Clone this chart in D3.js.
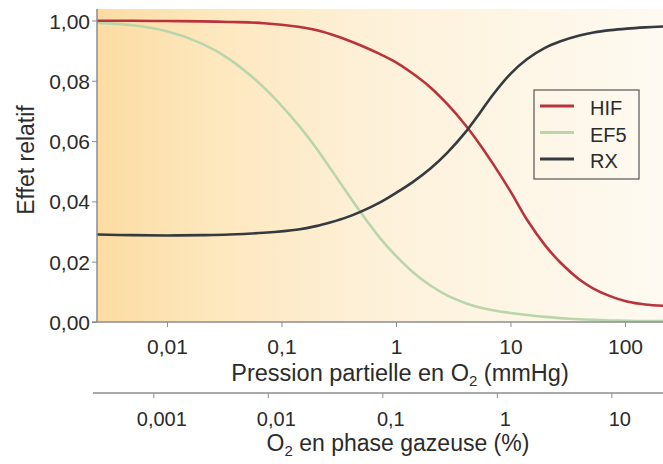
<!DOCTYPE html>
<html><head><meta charset="utf-8">
<script src="https://cdn.jsdelivr.net/npm/d3@7"></script>
<style>
html,body{margin:0;padding:0;background:#fff;}
text{font-family:"Liberation Sans",Arial,sans-serif;fill:#2b2b2b;}
</style></head>
<body>
<svg id="chart" width="663" height="464"></svg>
<script>
// pressure (mmHg) sample points
const pressure = [0.0025,0.005,0.01,0.02,0.035,0.07,0.14,0.2,0.27,0.37,0.5,0.72,1,1.4,2,2.8,4,5.4,7,10,14,20,27,40,53,75,104,150,215];
const hif = [0.999,0.999,0.998,0.997,0.995,0.991,0.979,0.968,0.954,0.936,0.916,0.889,0.861,0.824,0.778,0.723,0.655,0.589,0.526,0.433,0.338,0.255,0.199,0.141,0.111,0.085,0.068,0.058,0.054];
const ef5 = [0.992,0.984,0.964,0.924,0.872,0.778,0.654,0.578,0.507,0.431,0.360,0.280,0.219,0.166,0.121,0.088,0.063,0.048,0.039,0.030,0.023,0.017,0.013,0.009,0.007,0.005,0.004,0.003,0.003];
const rx = [0.290,0.288,0.287,0.288,0.290,0.296,0.307,0.318,0.331,0.347,0.367,0.396,0.428,0.464,0.509,0.561,0.627,0.693,0.753,0.823,0.872,0.909,0.930,0.950,0.960,0.968,0.973,0.977,0.980];
const seriesNames = ["HIF","EF5","RX"];
const seriesColors = ["#b8333b","#b9d6ab","#353a3f"];
const yTickValues = [0,0.2,0.4,0.6,0.8,1.0];
const yTickLabels = ["0,00","0,02","0,04","0,06","0,08","1,00"];
const xTicksMmHg = [0.01,0.1,1,10,100];
const xTickLabelsMmHg = ["0,01","0,1","1","10","100"];
const xTicksPct = [0.001,0.01,0.1,1,10];
const xTickLabelsPct = ["0,001","0,01","0,1","1","10"];
const mmHgPerPct = 7.6;

const svg = d3.select("#chart");
const L = 97, R = 663, T = 9, B = 322;
const x = d3.scaleLog().domain([Math.pow(10,-2.611), Math.pow(10,2.332)]).range([L, R]);
const xPct = d3.scaleLog().domain(x.domain().map(d => d / mmHgPerPct)).range([L, R]);
const y = d3.scaleLinear().domain([0, 1.038]).range([B, T]);

const defs = svg.append("defs");
const g = defs.append("linearGradient").attr("id","bg").attr("x1","0").attr("x2","1").attr("y1","0").attr("y2","0");
[["0%","#fcdca2"],["20%","#fde7bd"],["50%","#fdf1da"],["100%","#fefaf1"]].forEach(s =>
  g.append("stop").attr("offset", s[0]).attr("stop-color", s[1]));

svg.append("rect").attr("x", L).attr("y", T).attr("width", R - L).attr("height", B - T).attr("fill", "url(#bg)");

// lines
const line = d3.line().x(d => x(d[0])).y(d => y(d[1])).curve(d3.curveCatmullRom.alpha(0.5));
const allSeries = [hif, ef5, rx];
[1,0,2].forEach(i => {
  svg.append("path")
    .datum(pressure.map((p, j) => [p, allSeries[i][j]]))
    .attr("fill", "none")
    .attr("stroke", seriesColors[i])
    .attr("stroke-width", 2.6)
    .attr("stroke-linecap", "round")
    .attr("d", line);
});

const axisColor = "#8c8c8c";
// y axis
const yAxis = svg.append("g").attr("transform", `translate(${L},0)`)
  .call(d3.axisLeft(y).tickValues(yTickValues).tickFormat((d,i) => yTickLabels[i]).tickSize(5).tickPadding(2).tickSizeOuter(0));
yAxis.select(".domain").remove();
yAxis.append("line").attr("x1",0).attr("x2",0).attr("y1",T).attr("y2",B).attr("stroke",axisColor).attr("stroke-width",1.5);
yAxis.selectAll(".tick line").attr("stroke", axisColor);
yAxis.selectAll(".tick text").attr("font-size", 21).attr("fill","#2b2b2b").attr("dy","0.36em");

// x axis (mmHg)
const xAxis = svg.append("g").attr("transform", `translate(0,${B})`)
  .call(d3.axisBottom(x).tickValues(xTicksMmHg).tickFormat((d,i) => xTickLabelsMmHg[i]).tickSize(5).tickPadding(12).tickSizeOuter(0));
xAxis.select(".domain").remove();
xAxis.append("line").attr("x1",L-5).attr("x2",R).attr("y1",0).attr("y2",0).attr("stroke",axisColor).attr("stroke-width",1.5);
xAxis.selectAll(".tick line").attr("stroke", axisColor);
xAxis.selectAll(".tick text").attr("font-size", 21).attr("fill","#2b2b2b");

// second axis (%)
const Y2 = 393;
const xAxis2 = svg.append("g").attr("transform", `translate(0,${Y2})`)
  .call(d3.axisBottom(xPct).tickValues(xTicksPct).tickFormat((d,i) => xTickLabelsPct[i]).tickSize(5).tickPadding(14).tickSizeOuter(0));
xAxis2.select(".domain").remove();
xAxis2.append("line").attr("x1",93).attr("x2",R).attr("y1",0).attr("y2",0).attr("stroke",axisColor).attr("stroke-width",1.5);
xAxis2.selectAll(".tick line").attr("stroke", axisColor);
xAxis2.selectAll(".tick text").attr("font-size", 20).attr("fill","#2b2b2b").attr("dx", 8);

// axis titles
const t1 = svg.append("text").attr("x", 400).attr("y", 381).attr("text-anchor","middle").attr("font-size", 23.5);
t1.append("tspan").text("Pression partielle en O");
t1.append("tspan").attr("font-size", 15).attr("dy", 5).text("2");
t1.append("tspan").attr("dy", -5).text(" (mmHg)");

const t2 = svg.append("text").attr("x", 398).attr("y", 451).attr("text-anchor","middle").attr("font-size", 23);
t2.append("tspan").text("O");
t2.append("tspan").attr("font-size", 15).attr("dy", 5).text("2");
t2.append("tspan").attr("dy", -5).text(" en phase gazeuse (%)");

svg.append("text").attr("transform","translate(34,160) rotate(-90)").attr("text-anchor","middle").attr("font-size", 23).text("Effet relatif");

// legend
const lg = svg.append("g").attr("transform","translate(534,90)");
lg.append("rect").attr("width",105).attr("height",89).attr("fill","none").attr("stroke","#555").attr("stroke-width",1.2);
seriesNames.forEach((n, i) => {
  const yy = 16 + i * 26.5;
  lg.append("line").attr("x1",6).attr("x2",40).attr("y1",yy).attr("y2",yy).attr("stroke",seriesColors[i]).attr("stroke-width",3);
  lg.append("text").attr("x",56).attr("y",yy+9).attr("font-size",20).text(n);
});
</script>
</body></html>
